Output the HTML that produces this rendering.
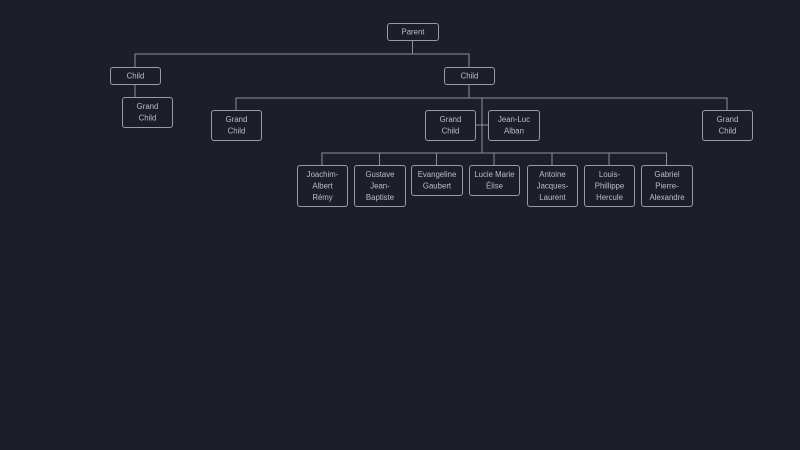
<!DOCTYPE html>
<html><head><meta charset="utf-8"><style>
html,body{margin:0;padding:0;background:#1e1e29;}
svg{display:block}
text{font-family:"Liberation Sans",sans-serif;font-size:7.8px;fill:#bdbdc7;text-anchor:middle}
rect{fill:#1e1e29;stroke:#9a9aa8;stroke-width:1}
line,path{stroke:#8f8f9d;stroke-width:1;fill:none}
</style></head><body>
<svg width="800" height="450" viewBox="0 0 800 450">
<rect x="0" y="0" width="800" height="450" style="fill:#1e1e29;stroke:none"/>
<path d="M412.5 40V54M135 67V54H469V67"/>
<path d="M135 84V97"/>
<path d="M469 84V98M236 110V98H727V110"/>
<path d="M482 98V153M475 125H488"/>
<path d="M322 165V153H666.5V165M379.5 153V165M436.5 153V165M494 153V165M552 153V165M609 153V165"/>
<rect x="387.5" y="23.5" width="51" height="17" rx="2.5"/><text x="413" y="34.5">Parent</text>
<rect x="110.5" y="67.5" width="50" height="17" rx="2.5"/><text x="135.5" y="78.5">Child</text>
<rect x="444.5" y="67.5" width="50" height="17" rx="2.5"/><text x="469.5" y="78.5">Child</text>
<rect x="122.5" y="97.5" width="50" height="30" rx="2.5"/><text x="147.5" y="109">Grand</text><text x="147.5" y="120.5">Child</text>
<rect x="211.5" y="110.5" width="50" height="30" rx="2.5"/><text x="236.5" y="122">Grand</text><text x="236.5" y="133.5">Child</text>
<rect x="425.5" y="110.5" width="50" height="30" rx="2.5"/><text x="450.5" y="122">Grand</text><text x="450.5" y="133.5">Child</text>
<rect x="488.5" y="110.5" width="51" height="30" rx="2.5"/><text x="514" y="122">Jean-Luc</text><text x="514" y="133.5">Alban</text>
<rect x="702.5" y="110.5" width="50" height="30" rx="2.5"/><text x="727.5" y="122">Grand</text><text x="727.5" y="133.5">Child</text>
<rect x="297.5" y="165.5" width="50" height="41" rx="2.5"/><text x="322.5" y="177">Joachim-</text><text x="322.5" y="188.5">Albert</text><text x="322.5" y="200">Rémy</text>
<rect x="354.5" y="165.5" width="51" height="41" rx="2.5"/><text x="380" y="177">Gustave</text><text x="380" y="188.5">Jean-</text><text x="380" y="200">Baptiste</text>
<rect x="411.5" y="165.5" width="51" height="30" rx="2.5"/><text x="437" y="177">Evangeline</text><text x="437" y="188.5">Gaubert</text>
<rect x="469.5" y="165.5" width="50" height="30" rx="2.5"/><text x="494.5" y="177">Lucie Marie</text><text x="494.5" y="188.5">Élise</text>
<rect x="527.5" y="165.5" width="50" height="41" rx="2.5"/><text x="552.5" y="177">Antoine</text><text x="552.5" y="188.5">Jacques-</text><text x="552.5" y="200">Laurent</text>
<rect x="584.5" y="165.5" width="50" height="41" rx="2.5"/><text x="609.5" y="177">Louis-</text><text x="609.5" y="188.5">Phillippe</text><text x="609.5" y="200">Hercule</text>
<rect x="641.5" y="165.5" width="51" height="41" rx="2.5"/><text x="667" y="177">Gabriel</text><text x="667" y="188.5">Pierre-</text><text x="667" y="200">Alexandre</text>
</svg>
</body></html>
